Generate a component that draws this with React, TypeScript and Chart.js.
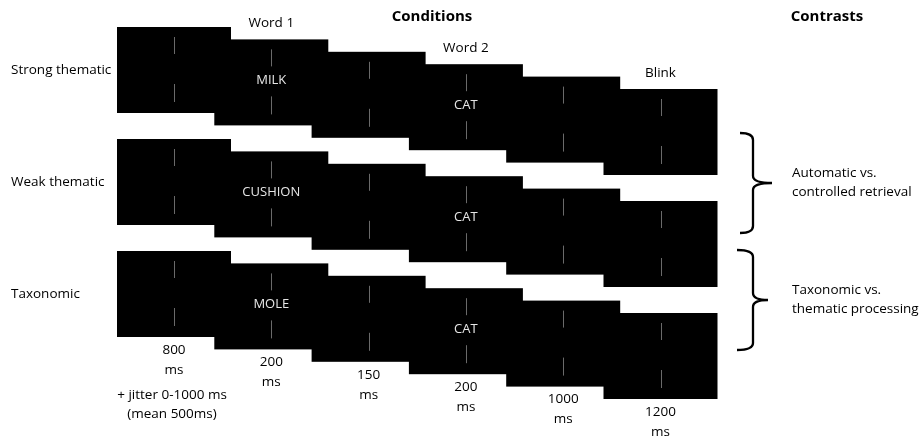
import React, { useEffect, useRef } from 'react';
import { Chart, registerables } from 'chart.js';

Chart.register(...registerables);

// ---- content ----
const conditions = ['Strong thematic', 'Weak thematic', 'Taxonomic'];
const word1Stimuli = ['MILK', 'CUSHION', 'MOLE'];
const word2Stimuli = ['CAT', 'CAT', 'CAT'];
const stepLabels = ['', 'Word 1', '', 'Word 2', '', 'Blink'];
const durationsMs = ['800', '200', '150', '200', '1000', '1200'];
const jitterNote = ['+ jitter 0-1000 ms', '(mean 500ms)'];
const headings = ['Conditions', 'Contrasts'];
const contrastLines = [
  ['Automatic vs.', 'controlled retrieval'],
  ['Taxonomic vs.', 'thematic processing'],
];

// ---- layout (not data) ----
const LAY = { x0: 117, dx: 97.3, y0: 27, dyStep: 12.4, dyRow: 112, w: 114, h: 86 };
const FONT = '"Open Sans", "DejaVu Sans", sans-serif';
const LABEL_FONT = `13.5px ${FONT}`;

const diagramPlugin = {
  id: 'diagram',
  afterDraw(chart: any) {
    const ctx: CanvasRenderingContext2D = chart.ctx;
    const sx = chart.scales.x;
    const sy = chart.scales.y;
    const X = (v: number) => sx.getPixelForValue(v);
    const Y = (v: number) => sy.getPixelForValue(v);
    const nSteps = durationsMs.length;

    ctx.save();
    ctx.textAlign = 'center';
    ctx.textBaseline = 'middle';

    // headings
    ctx.fillStyle = '#000';
    ctx.font = `bold 15px ${FONT}`;
    ctx.fillText(headings[0], X(432), Y(17));
    ctx.fillText(headings[1], X(827), Y(17));

    conditions.forEach((cond, r) => {
      const words = ['', word1Stimuli[r], '', word2Stimuli[r], '', ''];
      for (let i = 0; i < nSteps; i++) {
        const left = LAY.x0 + i * LAY.dx;
        const top = LAY.y0 + r * LAY.dyRow + i * LAY.dyStep;
        const px = X(left), py = Y(top);
        const pw = X(left + LAY.w) - px, ph = Y(top + LAY.h) - py;
        ctx.fillStyle = '#000';
        ctx.fillRect(px, py, pw, ph);
      }
      for (let i = 0; i < nSteps; i++) {
        const left = LAY.x0 + i * LAY.dx;
        const top = LAY.y0 + r * LAY.dyRow + i * LAY.dyStep;
        const cx = left + LAY.w / 2;
        const cy = top + LAY.h / 2;
        ctx.strokeStyle = '#6a6a6a';
        ctx.lineWidth = 1;
        ctx.beginPath();
        ctx.moveTo(Math.round(X(cx)) + 0.5, Y(cy - 33));
        ctx.lineTo(Math.round(X(cx)) + 0.5, Y(cy - 16));
        ctx.moveTo(Math.round(X(cx)) + 0.5, Y(cy + 14));
        ctx.lineTo(Math.round(X(cx)) + 0.5, Y(cy + 32));
        ctx.stroke();
        if (words[i]) {
          ctx.fillStyle = '#e6e6e6';
          ctx.font = `13px ${FONT}`;
          ctx.fillText(words[i], X(cx), Y(cy - 2));
        }
        if (r === 0 && stepLabels[i]) {
          ctx.fillStyle = '#000';
          ctx.font = LABEL_FONT;
          ctx.fillText(stepLabels[i], X(cx), Y(top - 16));
        }
        if (r === conditions.length - 1) {
          ctx.fillStyle = '#000';
          ctx.font = LABEL_FONT;
          ctx.fillText(durationsMs[i], X(cx), Y(top + LAY.h + 13));
          ctx.fillText('ms', X(cx), Y(top + LAY.h + 33));
          if (i === 0) {
            ctx.fillText(jitterNote[0], X(cx - 2), Y(top + LAY.h + 58));
            ctx.fillText(jitterNote[1], X(cx - 2), Y(top + LAY.h + 77));
          }
        }
      }
      // condition label
      ctx.fillStyle = '#000';
      ctx.font = LABEL_FONT;
      ctx.textAlign = 'left';
      ctx.fillText(cond, X(11), Y(LAY.y0 + r * LAY.dyRow + LAY.h / 2));
      ctx.textAlign = 'center';
    });

    // braces + contrast text
    const braces = [
      { xl: 740, xv: 753, xt: 772, top: 133, bot: 233 },
      { xl: 737, xv: 753, xt: 768, top: 250, bot: 350 },
    ];
    braces.forEach((b, k) => {
      const mid = (b.top + b.bot) / 2;
      const rr = 7;
      ctx.strokeStyle = '#000';
      ctx.lineWidth = 2.3;
      ctx.beginPath();
      ctx.moveTo(X(b.xl), Y(b.top));
      ctx.quadraticCurveTo(X(b.xv), Y(b.top), X(b.xv), Y(b.top + rr));
      ctx.lineTo(X(b.xv), Y(mid - rr));
      ctx.quadraticCurveTo(X(b.xv), Y(mid), X(b.xt), Y(mid));
      ctx.moveTo(X(b.xt), Y(mid));
      ctx.quadraticCurveTo(X(b.xv), Y(mid), X(b.xv), Y(mid + rr));
      ctx.lineTo(X(b.xv), Y(b.bot - rr));
      ctx.quadraticCurveTo(X(b.xv), Y(b.bot), X(b.xl), Y(b.bot));
      ctx.stroke();
      ctx.fillStyle = '#000';
      ctx.font = LABEL_FONT;
      ctx.textAlign = 'left';
      ctx.fillText(contrastLines[k][0], X(792), Y(mid - 10));
      ctx.fillText(contrastLines[k][1], X(792), Y(mid + 9));
      ctx.textAlign = 'center';
    });

    ctx.restore();
  },
};

export default function App() {
  const ref = useRef<HTMLCanvasElement | null>(null);
  useEffect(() => {
    document.body.style.margin = '0';
    const canvas = ref.current;
    if (!canvas) return;
    const chart = new Chart(canvas, {
      type: 'scatter',
      data: { datasets: [{ data: [], pointRadius: 0 }] },
      options: {
        animation: false,
        responsive: false,
        events: [],
        layout: { padding: 0 },
        plugins: { legend: { display: false }, tooltip: { enabled: false } },
        scales: {
          x: { type: 'linear', min: 0, max: 920, display: false },
          y: { type: 'linear', min: 0, max: 438, reverse: true, display: false },
        },
      },
      plugins: [diagramPlugin],
    });
    return () => chart.destroy();
  }, []);
  return (
    <div style={{ width: 920, height: 438, background: '#fff' }}>
      <canvas ref={ref} width={920} height={438} style={{ display: 'block' }} />
    </div>
  );
}
